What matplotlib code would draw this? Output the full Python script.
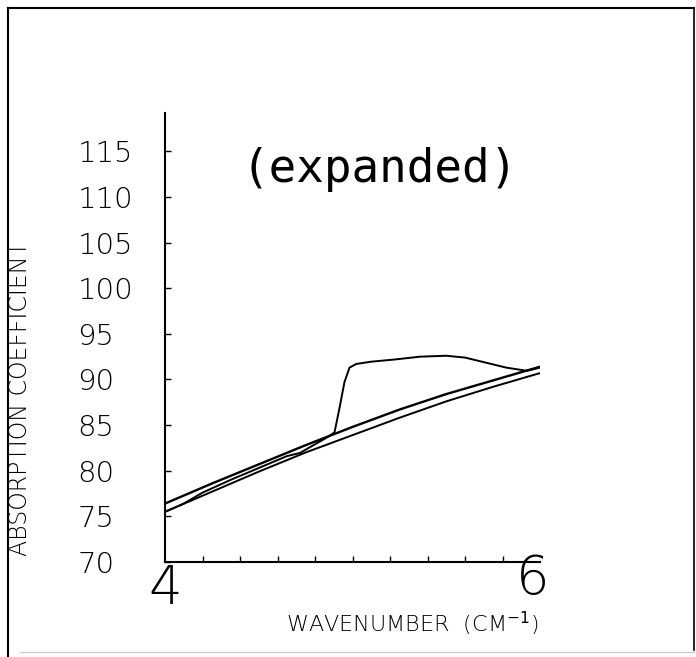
import numpy as np
import matplotlib
matplotlib.use('Agg')
import matplotlib.pyplot as plt
from matplotlib.lines import Line2D
from matplotlib.transforms import ScaledTranslation

# -------------------------------
# Data
# -------------------------------
# two nearly straight background curves
x_upper = [4.0, 4.25, 4.5, 4.75, 5.0, 5.25, 5.5, 5.75, 6.0]
y_upper = [76.4, 78.6, 80.7, 82.8, 84.8, 86.7, 88.4, 89.9, 91.4]

x_lower = [4.0, 4.25, 4.5, 4.75, 5.0, 5.25, 5.5, 5.75, 6.0]
y_lower = [75.5, 77.7, 79.9, 82.0, 83.9, 85.8, 87.6, 89.2, 90.7]

# curve with the step near 4.9 cm-1
x_step = [4.0, 4.1, 4.2, 4.35, 4.5, 4.65, 4.72, 4.8, 4.86, 4.904, 4.93, 4.957,
          4.984, 5.02, 5.1, 5.23, 5.36, 5.5, 5.6, 5.68, 5.82, 5.93, 6.0]
y_step = [75.5, 76.4, 77.6, 79.0, 80.3, 81.6, 81.95, 82.9, 83.6, 84.2, 86.8, 89.7,
          91.3, 91.7, 91.95, 92.2, 92.5, 92.6, 92.4, 92.0, 91.3, 90.95, 91.3]

y_ticks = [70, 75, 80, 85, 90, 95, 100, 105, 110, 115]
x_ticks = [4, 6]
x_minor = np.arange(4.0, 6.001, 0.2)

W, H = 696, 657

# -------------------------------
# Figure
# -------------------------------
fig = plt.figure(figsize=(W / 100, H / 100), dpi=100)
ax = fig.add_axes([165 / W, 1 - 562 / H, 375 / W, 449 / H])

ax.plot(x_upper, y_upper, color='black', lw=1.7)
ax.plot(x_lower, y_lower, color='black', lw=1.4)
ax.plot(x_step, y_step, color='black', lw=1.4)

ax.set_xlim(4, 6)
ax.set_ylim(70, 119.2)

for s in ['top', 'right']:
    ax.spines[s].set_visible(False)
for s in ['left', 'bottom']:
    ax.spines[s].set_linewidth(1.5)

ax.set_yticks(y_ticks)
ax.set_yticklabels([str(v) for v in y_ticks], fontsize=21, fontweight='light')
plt.setp(ax.get_yticklabels(), ha='left')
ax.tick_params(axis='y', direction='in', length=4, width=1, pad=63)

ax.set_xticks(x_ticks)
ax.set_xticks(x_minor, minor=True)
ax.set_xticklabels([str(v) for v in x_ticks], fontsize=38, fontweight='light')
ax.tick_params(axis='x', which='major', direction='in', length=0, pad=1)
ax.tick_params(axis='x', which='minor', direction='in', length=4, width=1)

# the "6" sits a little left and higher in the original
lab6 = ax.get_xticklabels()[1]
lab6.set_transform(lab6.get_transform() + ScaledTranslation(-7 / 100, 10 / 100, fig.dpi_scale_trans))

ax.set_ylabel('ABSORPTION COEFFICIENT', fontsize=17, fontweight='light')
ax.yaxis.label.set_va('center')
ax.yaxis.set_label_coords((20 - 165) / 375, (562 - 399) / 449)

ax.set_xlabel(r'WAVENUMBER  (CM$^{-1}$)', fontsize=16, fontweight='light')
ax.xaxis.label.set_va('center')
ax.xaxis.set_label_coords((412 - 165) / 375, (562 - 624) / 449)

fig.text(380 / W, 1 - 169 / H, '(expanded)', family='DejaVu Sans Mono',
         fontsize=33, ha='center', va='center')

# scanned page frame
def px_line(x0, y0, x1, y1, **kw):
    fig.add_artist(Line2D([x0 / W, x1 / W], [1 - y0 / H, 1 - y1 / H],
                          transform=fig.transFigure, **kw))

px_line(8, 8, 694, 8, color='black', lw=1.5)
px_line(8, 8, 8, 657, color='black', lw=1.5)
px_line(694, 8, 694, 650, color='black', lw=1.2)
px_line(20, 652, 694, 652, color='#cccccc', lw=1.0)

fig.savefig('out.png', dpi=100)
